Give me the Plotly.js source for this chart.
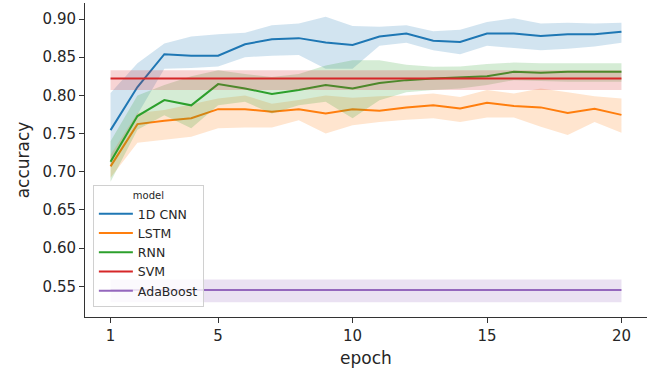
<!DOCTYPE html>
<html>
<head>
<meta charset="utf-8">
<script src="https://cdn.plot.ly/plotly-3.0.1.min.js"></script>
<style>html,body{margin:0;padding:0;background:#fff;}#chart{width:650px;height:374px;}</style>
</head>
<body>
<div id="chart"></div>
<script>
const epochs = [1,2,3,4,5,6,7,8,9,10,11,12,13,14,15,16,17,18,19,20];
const modelNames = ["1D CNN","LSTM","RNN","SVM","AdaBoost"];

const cnnMean  = [0.7545,0.811,0.854,0.852,0.852,0.867,0.8735,0.875,0.8694,0.866,0.877,0.881,0.8716,0.870,0.881,0.881,0.8777,0.880,0.880,0.8834];
const cnnUpper = [0.803,0.842,0.868,0.877,0.880,0.882,0.892,0.894,0.903,0.891,0.890,0.892,0.884,0.886,0.896,0.901,0.894,0.895,0.894,0.895];
const cnnLower = [0.710,0.775,0.835,0.836,0.838,0.850,0.852,0.853,0.835,0.835,0.865,0.869,0.859,0.854,0.865,0.862,0.859,0.861,0.864,0.869];

const lstmMean  = [0.707,0.7624,0.7667,0.770,0.782,0.782,0.7785,0.782,0.7764,0.782,0.780,0.7843,0.787,0.783,0.7905,0.786,0.7843,0.777,0.7825,0.7745];
const lstmUpper = [0.722,0.777,0.781,0.788,0.796,0.800,0.789,0.794,0.800,0.797,0.799,0.800,0.8026,0.798,0.807,0.8026,0.809,0.804,0.799,0.796];
const lstmLower = [0.692,0.738,0.742,0.746,0.757,0.758,0.758,0.7676,0.750,0.761,0.765,0.768,0.770,0.765,0.771,0.771,0.759,0.748,0.765,0.751];

const rnnMean  = [0.713,0.773,0.7938,0.787,0.8148,0.809,0.802,0.807,0.8135,0.809,0.8162,0.820,0.822,0.8233,0.825,0.831,0.8297,0.831,0.831,0.831];
const rnnUpper = [0.740,0.800,0.8135,0.825,0.833,0.828,0.824,0.828,0.839,0.846,0.846,0.840,0.8375,0.838,0.841,0.843,0.842,0.842,0.842,0.842];
const rnnLower = [0.687,0.755,0.774,0.757,0.787,0.7916,0.7764,0.787,0.7916,0.770,0.7938,0.804,0.807,0.809,0.8135,0.820,0.819,0.818,0.818,0.818];

const svmMean  = [0.822,0.822,0.822,0.822,0.822,0.822,0.822,0.822,0.822,0.822,0.822,0.822,0.822,0.822,0.822,0.822,0.822,0.822,0.822,0.822];
const svmUpper = [0.833,0.833,0.833,0.833,0.833,0.833,0.833,0.833,0.833,0.833,0.833,0.833,0.833,0.833,0.833,0.833,0.833,0.833,0.833,0.833];
const svmLower = [0.807,0.807,0.807,0.807,0.807,0.807,0.807,0.807,0.807,0.807,0.807,0.807,0.807,0.807,0.807,0.807,0.807,0.807,0.807,0.807];

const adaMean  = [0.545,0.545,0.545,0.545,0.545,0.545,0.545,0.545,0.545,0.545,0.545,0.545,0.545,0.545,0.545,0.545,0.545,0.545,0.545,0.545];
const adaUpper = [0.559,0.559,0.559,0.559,0.559,0.559,0.559,0.559,0.559,0.559,0.559,0.559,0.559,0.559,0.559,0.559,0.559,0.559,0.559,0.559];
const adaLower = [0.529,0.529,0.529,0.529,0.529,0.529,0.529,0.529,0.529,0.529,0.529,0.529,0.529,0.529,0.529,0.529,0.529,0.529,0.529,0.529];

const xTicks = [1,5,10,15,20];
const yTicks = [0.55,0.60,0.65,0.70,0.75,0.80,0.85,0.90];

const colors = ["#1f77b4","#ff7f0e","#2ca02c","#d62728","#9467bd"];
const fills  = ["rgba(31,119,180,0.2)","rgba(255,127,14,0.2)","rgba(44,160,44,0.2)","rgba(214,39,40,0.2)","rgba(148,103,189,0.2)"];
const means  = [cnnMean,lstmMean,rnnMean,svmMean,adaMean];
const uppers = [cnnUpper,lstmUpper,rnnUpper,svmUpper,adaUpper];
const lowers = [cnnLower,lstmLower,rnnLower,svmLower,adaLower];

const traces = [];
modelNames.forEach((name,i)=>{
  traces.push({x:epochs,y:means[i],type:"scatter",mode:"lines",name:name,
    line:{color:colors[i],width:2},showlegend:true,hoverinfo:"skip"});
  traces.push({x:epochs,y:lowers[i],type:"scatter",mode:"lines",line:{width:0,color:colors[i]},
    showlegend:false,hoverinfo:"skip"});
  traces.push({x:epochs,y:uppers[i],type:"scatter",mode:"lines",line:{width:0,color:colors[i]},
    fill:"tonexty",fillcolor:fills[i],showlegend:false,hoverinfo:"skip"});
});

const layout = {
  width:650,height:374,
  margin:{l:85,r:3,t:3,b:57},
  paper_bgcolor:"#fff",plot_bgcolor:"#fff",
  font:{family:"DejaVu Sans",color:"#262626"},
  xaxis:{range:[0.05,20.95],tickvals:xTicks,ticktext:xTicks.map(String),
    showgrid:false,zeroline:false,showline:true,linecolor:"#333",linewidth:1,
    ticks:"outside",ticklen:5,tickcolor:"#333",tickfont:{size:15,color:"#262626"},
    title:{text:"epoch",font:{size:17,color:"#262626"},standoff:8}},
  yaxis:{range:[0.5098,0.921],tickvals:yTicks,ticktext:yTicks.map(v=>v.toFixed(2)),
    showgrid:false,zeroline:false,showline:true,linecolor:"#333",linewidth:1,
    ticks:"outside",ticklen:5,tickcolor:"#333",tickfont:{size:15,color:"#262626"},
    title:{text:"accuracy",font:{size:17,color:"#262626"},standoff:8}},
  showlegend:true,
  legend:{x:0.014,y:0.42,xanchor:"left",yanchor:"top",bgcolor:"rgba(255,255,255,0.8)",
    bordercolor:"#d0d0d0",borderwidth:1,font:{size:12.5,color:"#262626"},
    traceorder:"normal",itemwidth:34,
    title:{text:"model",side:"top center",font:{size:10,color:"#262626"}},
    tracegroupgap:0}
};

Plotly.newPlot("chart",traces,layout,{staticPlot:true,displayModeBar:false});
</script>
</body>
</html>
